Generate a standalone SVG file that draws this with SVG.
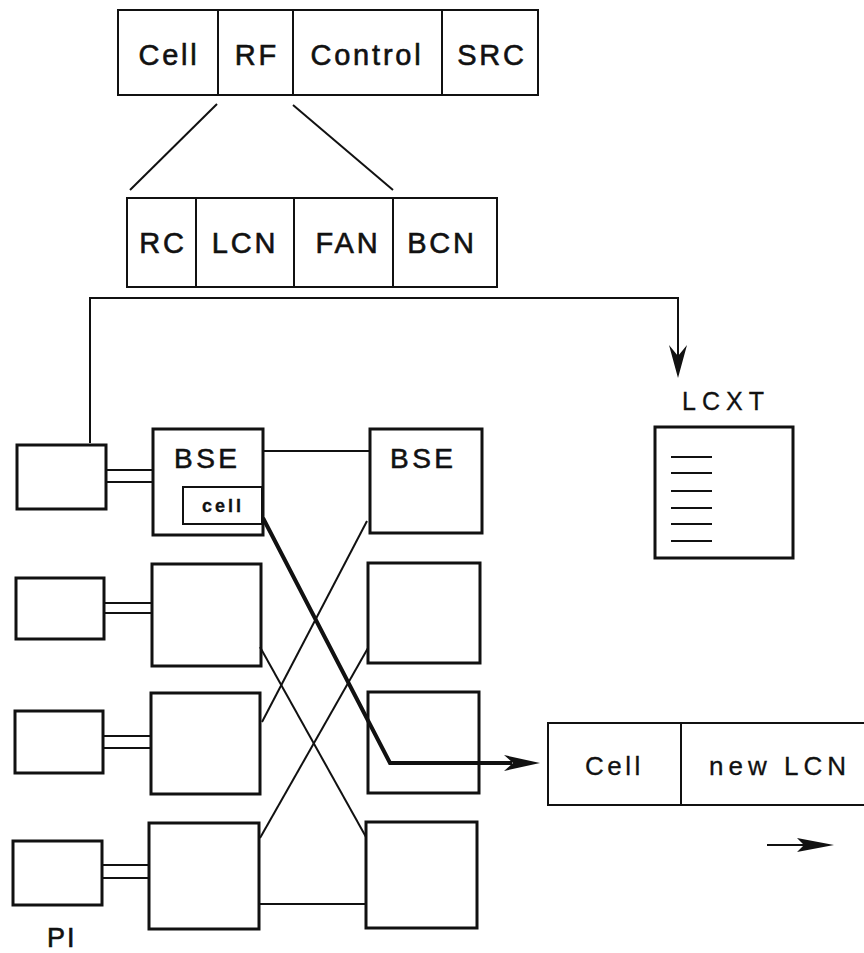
<svg xmlns="http://www.w3.org/2000/svg" width="864" height="953" viewBox="0 0 864 953">
<style>
.bx{fill:none;stroke:#111;stroke-width:3}
.hd{fill:none;stroke:#111;stroke-width:2}
.ln{fill:none;stroke:#111;stroke-width:2}
.tk{fill:none;stroke:#111;stroke-width:4;stroke-linejoin:miter}
.ah{fill:#111;stroke:none}
text{font-family:"Liberation Sans",Arial,Helvetica,sans-serif;fill:#111;stroke:#111;stroke-width:0.6}
.t28{font-size:29px;letter-spacing:2.8px;text-anchor:middle}
.t25{font-size:26px;letter-spacing:3.5px}
</style>
<rect width="864" height="953" fill="#fff"/>
<g id="header-rf">
<rect class="hd" x="118" y="10" width="420" height="85"/>
<line class="hd" x1="218" y1="10" x2="218" y2="95"/>
<line class="hd" x1="293" y1="10" x2="293" y2="95"/>
<line class="hd" x1="442" y1="10" x2="442" y2="95"/>
<text class="t28" x="169" y="65">Cell</text>
<text class="t28" x="257" y="65">RF</text>
<text class="t28" x="367" y="65">Control</text>
<text class="t28" x="492" y="65">SRC</text>
</g>
<g id="header-lcn">
<rect class="hd" x="127" y="198" width="370" height="89"/>
<line class="hd" x1="196" y1="198" x2="196" y2="287"/>
<line class="hd" x1="294" y1="198" x2="294" y2="287"/>
<line class="hd" x1="393" y1="198" x2="393" y2="287"/>
<text class="t28" x="163" y="253">RC</text>
<text class="t28" x="245" y="253">LCN</text>
<text class="t28" x="348" y="253">FAN</text>
<text class="t28" x="442" y="253">BCN</text>
</g>
<g id="lcxt">
<text x="682" y="410" style="font-size:25px;letter-spacing:6px;stroke-width:0.3">LCXT</text>
<rect class="bx" x="655" y="427" width="138" height="131"/>
<g class="hd">
<line x1="671" y1="457" x2="712" y2="457"/>
<line x1="671" y1="473" x2="712" y2="473"/>
<line x1="671" y1="491" x2="712" y2="491"/>
<line x1="671" y1="508" x2="712" y2="508"/>
<line x1="671" y1="524" x2="712" y2="524"/>
<line x1="671" y1="541" x2="712" y2="541"/>
</g>
</g>
<g id="pi1"><rect class="bx" x="17" y="445" width="89" height="64"/></g>
<g id="pi2"><rect class="bx" x="16" y="578" width="88" height="61"/></g>
<g id="pi3"><rect class="bx" x="15" y="711" width="88" height="62"/></g>
<g id="pi4"><rect class="bx" x="13" y="841" width="89" height="64"/></g>
<g id="pi-label"><text x="47" y="947" style="font-size:27px;letter-spacing:2px">PI</text></g>
<g id="bse-l1">
<rect class="bx" x="153" y="429" width="110" height="106"/>
<text x="174" y="468" style="font-size:28px;letter-spacing:3.5px">BSE</text>
<rect class="hd" x="183" y="487" width="79" height="37"/>
<text x="202" y="512" style="font-size:18px;font-weight:bold;letter-spacing:3px;stroke-width:0.3">cell</text>
</g>
<g id="bse-l2"><rect class="bx" x="152" y="564" width="109" height="102"/></g>
<g id="bse-l3"><rect class="bx" x="151" y="693" width="109" height="101"/></g>
<g id="bse-l4"><rect class="bx" x="149" y="823" width="110" height="106"/></g>
<g id="bse-r1">
<rect class="bx" x="370" y="429" width="112" height="104"/>
<text x="390" y="468" style="font-size:28px;letter-spacing:3.5px">BSE</text>
</g>
<g id="bse-r2"><rect class="bx" x="368" y="563" width="112" height="100"/></g>
<g id="bse-r3"><rect class="bx" x="368" y="692" width="111" height="101"/></g>
<g id="bse-r4"><rect class="bx" x="366" y="822" width="111" height="106"/></g>
<g id="new-header">
<path class="hd" d="M866 723 H548 V805 H866 M681 723 V805"/>
<text class="t25" x="585" y="775" style="stroke-width:0.3">Cell</text>
<text x="709" y="775" style="font-size:26px;letter-spacing:5px;stroke-width:0.3">new LCN</text>
</g>
<g id="connectors">
<line class="ln" x1="217" y1="104" x2="130" y2="190"/>
<line class="ln" x1="293" y1="105" x2="393" y2="190"/>
<path class="hd" d="M90 443 V298 H678 V356"/>
<polygon class="ah" points="669,345 678,356 687,345 678,378"/>
<g class="ln">
<line x1="106" y1="470" x2="153" y2="470"/>
<line x1="106" y1="482" x2="153" y2="482"/>
<line x1="104" y1="603" x2="152" y2="603"/>
<line x1="104" y1="613" x2="152" y2="613"/>
<line x1="103" y1="736" x2="151" y2="736"/>
<line x1="103" y1="748" x2="151" y2="748"/>
<line x1="102" y1="865" x2="149" y2="865"/>
<line x1="102" y1="878" x2="149" y2="878"/>
<line x1="263" y1="451" x2="370" y2="451"/>
<line x1="367" y1="521" x2="262" y2="722"/>
<line x1="260" y1="647" x2="366" y2="837"/>
<line x1="368" y1="648" x2="260" y2="838"/>
<line x1="259" y1="904" x2="366" y2="904"/>
</g>
<path class="tk" d="M263 518 L390 763 H512"/>
<polygon class="ah" points="504,755 513,763 504,771 540,763"/>
<line class="hd" x1="767" y1="845" x2="805" y2="845"/>
<polygon class="ah" points="797,838 804,845 797,852 834,845"/>
</g>
</svg>
